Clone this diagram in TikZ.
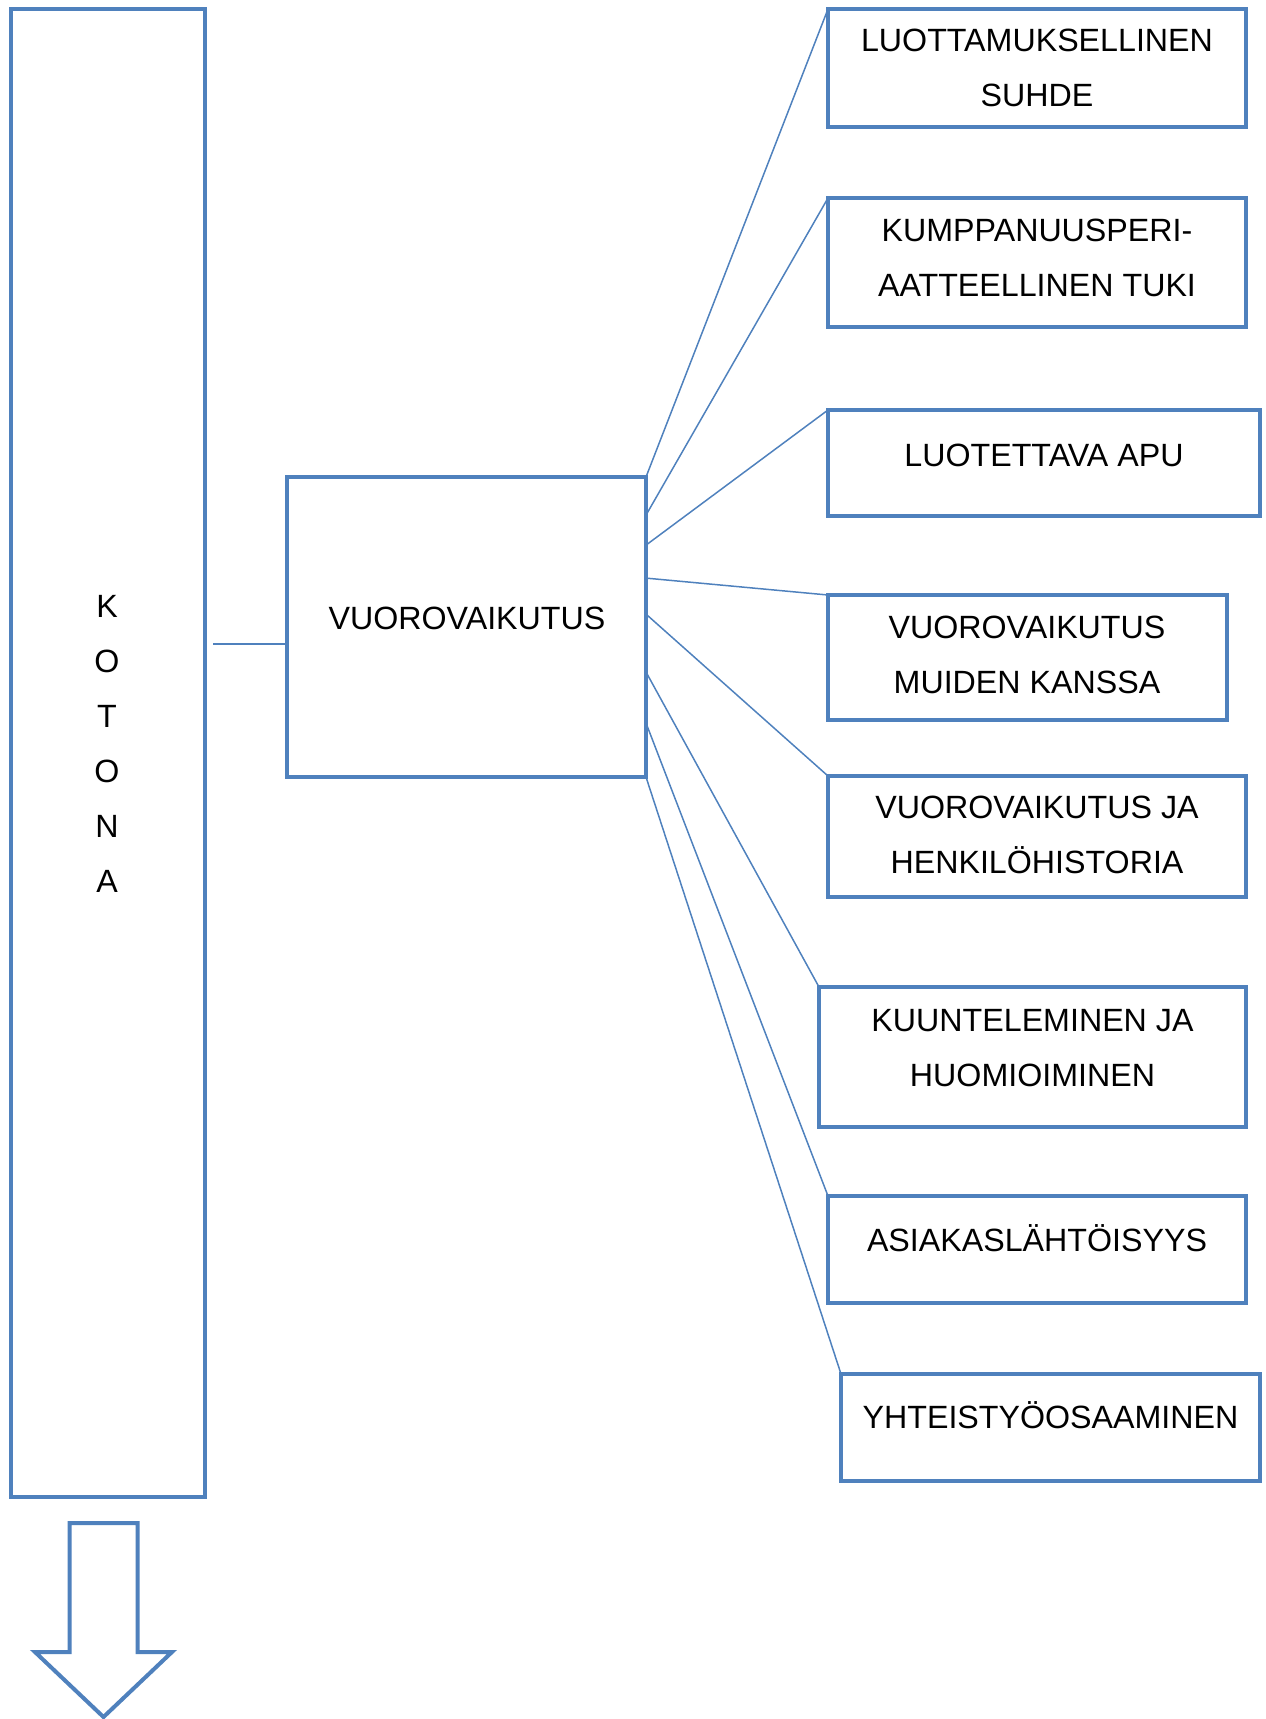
\documentclass[tikz,border=0pt]{standalone}
\usepackage{fontspec}
\setmainfont{Liberation Sans}
\usetikzlibrary{calc,fit}
\definecolor{obl}{RGB}{79,129,189}
\begin{document}
\begin{tikzpicture}[x=0.5pt,y=-0.5pt,
  box/.style={draw=obl, line width=2pt, inner sep=0pt, outer sep=0pt, rectangle},
  txt/.style={font=\fontsize{16.1pt}{27.5pt}\selectfont, align=center, inner sep=0pt, text=black},
  conn/.style={draw=obl, line width=0.75pt}]
\useasboundingbox (0,0) rectangle (1265,1719);
% main boxes
\node[box, fit={(11,9) (205,1497)}] (k) {};
\node[txt] (kt) at (107,744) {K\\O\\T\\O\\N\\A};
\node[box, fit={(287,477) (646,777)}] (c) {};
\node[txt] (ct) at (467,618) {VUOROVAIKUTUS};
% right boxes
\node[box, fit={(828,9) (1246,127)}] (b1) {};
\node[txt] (t1) at (1037,68) {LUOTTAMUKSELLINEN\\SUHDE};
\node[box, fit={(828,198) (1246,327)}] (b2) {};
\node[txt] (t2) at (1037,257.5) {KUMPPANUUSPERI-\\AATTEELLINEN TUKI};
\node[box, fit={(828,410) (1260,516)}] (b3) {};
\node[txt] (t3) at (1044,455) {LUOTETTAVA APU};
\node[box, fit={(828,595) (1227,720)}] (b4) {};
\node[txt] (t4) at (1027,654.5) {VUOROVAIKUTUS\\MUIDEN KANSSA};
\node[box, fit={(828,776) (1246,897)}] (b5) {};
\node[txt] (t5) at (1037,834.5) {VUOROVAIKUTUS JA\\HENKILÖHISTORIA};
\node[box, fit={(819,987) (1246,1127)}] (b6) {};
\node[txt] (t6) at (1032.5,1048) {KUUNTELEMINEN JA\\HUOMIOIMINEN};
\node[box, fit={(828,1196) (1246,1303)}] (b7) {};
\node[txt] (t7) at (1037,1238.5) {ASIAKASLÄHTÖISYYS};
\node[box, fit={(841,1374) (1260,1481)}] (b8) {};
\node[txt] (t8) at (1050.5,1415.5) {YHTEISTYÖOSAAMINEN};
% connectors
\coordinate (kc) at (213,644);
\draw[conn] (kc) -- (kc -| c.west);
\draw[conn] (c.north east) -- (b1.north west);
\draw[conn] ($(c.north east)!0.127!(c.south east)$) -- (b2.north west);
\draw[conn] ($(c.north east)!0.227!(c.south east)$) -- (b3.north west);
\draw[conn] ($(c.north east)!0.337!(c.south east)$) -- (b4.north west);
\draw[conn] ($(c.north east)!0.457!(c.south east)$) -- (b5.north west);
\draw[conn] ($(c.north east)!0.650!(c.south east)$) -- (b6.north west);
\draw[conn] ($(c.north east)!0.820!(c.south east)$) -- (b7.north west);
\draw[conn] (c.south east) -- (b8.north west);
% block arrow
\draw[draw=obl, line width=2pt, fill=white]
  (69.5,1523) -- (137.5,1523) -- (137.5,1652) -- (172,1652) -- (103.5,1717)
  -- (35,1652) -- (69.5,1652) -- cycle;
\end{tikzpicture}
\end{document}
